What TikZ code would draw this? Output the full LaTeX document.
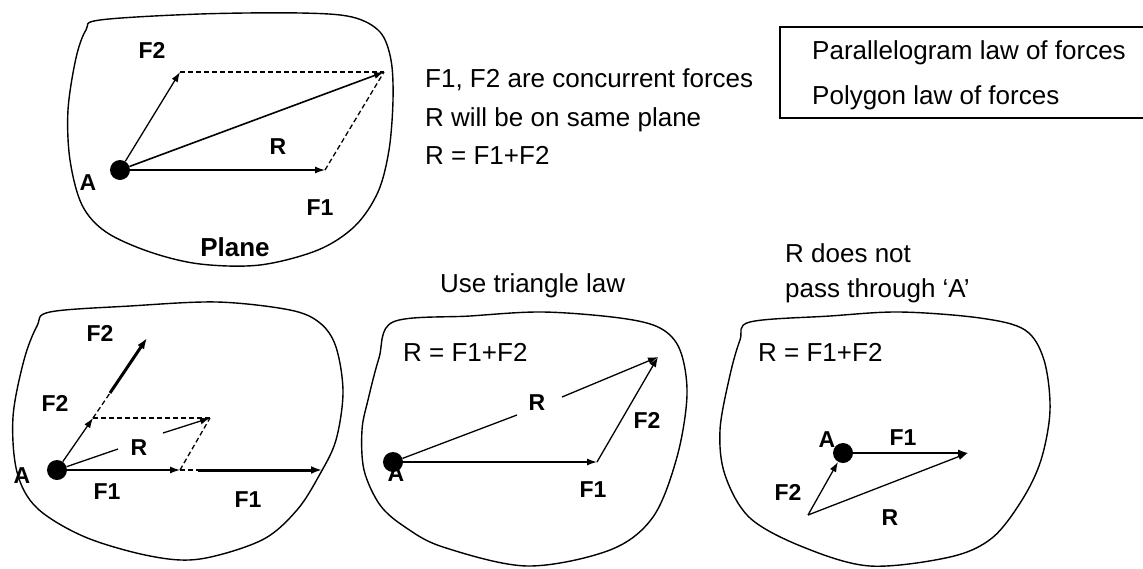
\documentclass[tikz,border=0pt]{standalone}
\usepackage{fontspec}
\setmainfont{Liberation Sans}
\usetikzlibrary{arrows.meta}
\begin{document}
\begin{tikzpicture}[x=1pt,y=-1pt,
  lbl/.style={font=\bfseries\fontsize{23}{25}\selectfont, inner sep=0},
  txt/.style={font=\fontsize{26}{28}\selectfont, anchor=base west, inner sep=0},
  dot/.style={circle, fill=black, minimum size=20pt, inner sep=0},
  vec/.style={line width=1.3pt, -{Latex[length=10pt,width=7pt]}},
  seg/.style={line width=1.3pt},
  thickvec/.style={line width=3pt, -{Latex[length=11pt,width=8pt]}},
  dsh/.style={line width=1.3pt, dash pattern=on 5pt off 3pt},
  blob/.style={line width=1.4pt}]
\useasboundingbox (0,0) rectangle (1143,568);

% ---------- top-left panel ----------
\draw[blob] plot[smooth cycle, tension=0.55] coordinates {(100,20) (200,14) (300,13) (352,17) (380,32) (391,60) (393,100) (389,150) (378,192) (355,226) (318,250) (260,265) (200,264) (150,252) (106,232) (82,205) (70,160) (68,110) (76,58) (86,30)};
\node[dot] (A1) at (120,170) {};
\coordinate (F1e1) at (325,170);
\coordinate (F2e1) at (180,72);
\coordinate (P1) at (384,72);
\draw[vec] (A1) -- (F1e1);
\draw[vec] (A1) -- (F2e1);
\draw[vec, line width=1.6pt] (A1) -- (P1);
\draw[dsh] (F2e1) -- (P1);
\draw[dsh] (F1e1) -- (P1);
\node[lbl] (lF2a) at (152,50) {F2};
\node[lbl] (lRa) at (278,147) {R};
\node[lbl] (lAa) at (88,183) {A};
\node[lbl] (lF1a) at (320,208) {F1};
\node[font=\bfseries\fontsize{26}{28}\selectfont, inner sep=0] (plane) at (235,247) {Plane};

\node[txt] (t1) at (425,87) {F1, F2 are concurrent forces};
\node[txt] (t2) at (425,126) {R will be on same plane};
\node[txt] (t3) at (425,164) {R = F1+F2};

% ---------- box ----------
\draw[line width=1.3pt] (1143,27) -- (780,27) -- (780,118) -- (1143,118);
\node[txt] (law1) at (812,59) {Parallelogram law of forces};
\node[txt] (law2) at (812,104) {Polygon law of forces};

% ---------- bottom-left panel ----------
\draw[blob] plot[smooth cycle, tension=0.55] coordinates {(50,312) (130,306) (217,302) (290,310) (320,323) (336,347) (343,392) (336,440) (320,474) (297,510) (262,540) (200,559) (150,556) (85,537) (37,508) (17,472) (13,417) (24,360) (37,326)};
\node[dot] (A2) at (57,470) {};
\coordinate (F1e2) at (180,470);
\coordinate (F1s2) at (198,470);
\coordinate (F1f2) at (322,470);
\coordinate (F2e2) at (93,418);
\coordinate (F2s2) at (110,393);
\coordinate (F2f2) at (147,338);
\coordinate (P2) at (210,418);
\coordinate (Rb2) at (118,449);
\coordinate (Rc2) at (163,433);
\draw[vec] (A2) -- (F1e2);
\draw[dsh] (F1e2) -- (F1s2);
\draw[thickvec] (F1s2) -- (F1f2);
\draw[vec] (A2) -- (F2e2);
\draw[dsh] (F2e2) -- (F2s2);
\draw[thickvec] (F2s2) -- (F2f2);
\draw[dsh] (F2e2) -- (P2);
\draw[dsh] (F1e2) -- (P2);
\draw[seg] (A2) -- (Rb2);
\draw[vec] (Rc2) -- (P2);
\node[lbl] (lF2b) at (100,333) {F2};
\node[lbl] (lF2c) at (55,403) {F2};
\node[lbl] (lRb) at (139,448) {R};
\node[lbl] (lAb) at (22,476) {A};
\node[lbl] (lF1b) at (107,492) {F1};
\node[lbl] (lF1c) at (248,500) {F1};

% ---------- bottom-middle panel ----------
\node[txt] (tri) at (440,292) {Use triangle law};
\draw[blob] plot[smooth cycle, tension=0.55] coordinates {(393,322) (470,316) (543,312) (620,318) (660,328) (680,350) (687,395) (677,457) (653,517) (610,550) (527,566) (443,547) (405,527) (380,505) (364,470) (362,430) (368,400) (379,358)};
\node[txt] (eq2) at (403,361) {R = F1+F2};
\node[dot] (A3) at (393,462) {};
\coordinate (F1e3) at (597,462);
\coordinate (P3) at (658,357);
\coordinate (Rb3) at (517,415);
\coordinate (Rc3) at (562,397);
\draw[vec] (A3) -- (F1e3);
\draw[vec] (F1e3) -- (P3);
\draw[seg] (A3) -- (Rb3);
\draw[vec] (Rc3) -- (P3);
\node[lbl] (lAc) at (396,474) {A};
\node[lbl] (lRc) at (537,403) {R};
\node[lbl] (lF2d) at (647,420) {F2};
\node[lbl] (lF1d) at (593,490) {F1};

% ---------- bottom-right panel ----------
\node[txt] (nr1) at (785,262) {R does not};
\node[txt] (nr2) at (785,297) {pass through ‘A’};
\draw[blob] plot[smooth cycle, tension=0.55] coordinates {(750,322) (830,316) (900,312) (980,318) (1025,330) (1044,360) (1050,410) (1041,460) (1022,500) (992,538) (950,557) (870,566) (803,547) (750,518) (725,475) (720,430) (730,375) (740,340)};
\node[txt] (eq3) at (758,361) {R = F1+F2};
\node[dot] (A4) at (843,453) {};
\coordinate (F1e4) at (968,453);
\coordinate (S4) at (808,515);
\draw[vec] (A4) -- (F1e4);
\draw[vec] (S4) -- (A4);
\draw[vec] (S4) -- (F1e4);
\node[lbl] (lAd) at (827,440) {A};
\node[lbl] (lF1e) at (903,438) {F1};
\node[lbl] (lF2e) at (788,492) {F2};
\node[lbl] (lRd) at (890,518) {R};
\end{tikzpicture}
\end{document}
